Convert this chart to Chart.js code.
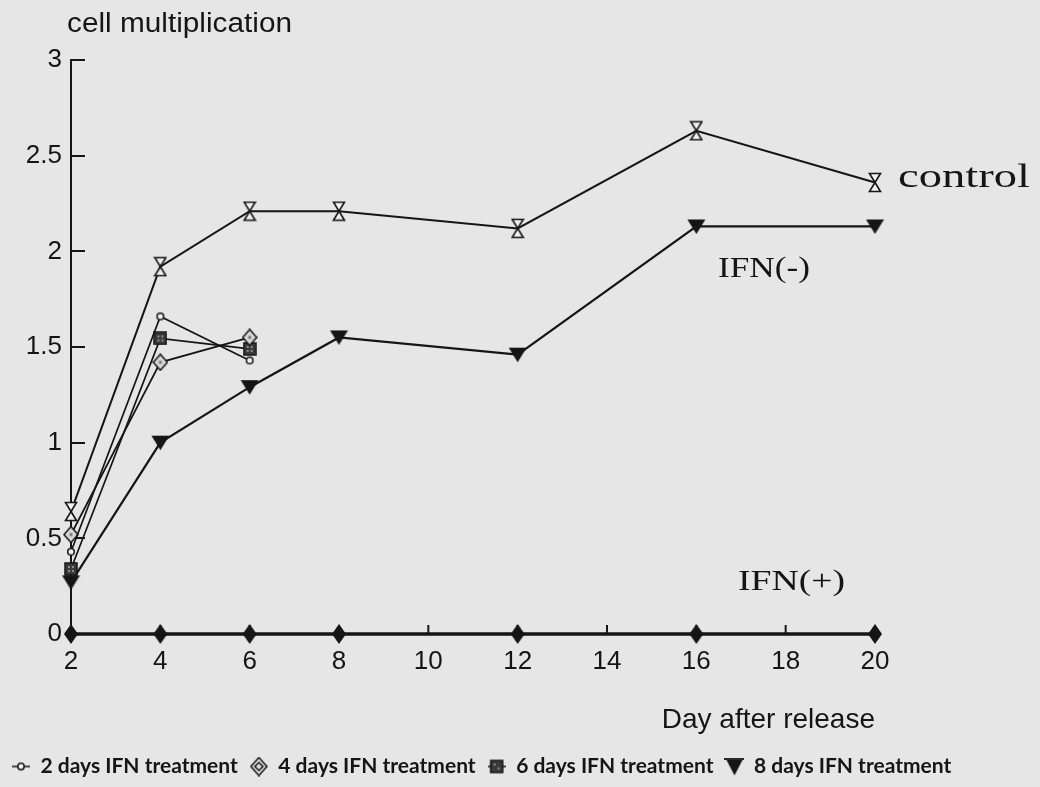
<!DOCTYPE html>
<html>
<head>
<meta charset="utf-8">
<script src="https://cdn.jsdelivr.net/npm/chart.js@4.4.0/dist/chart.umd.min.js"></script>
<style>
  html, body { margin: 0; padding: 0; background: #e6e6e6; }
  #wrap { width: 1040px; height: 787px; position: relative; }
</style>
</head>
<body>
<div id="wrap"><canvas id="c"></canvas></div>
<script>
// ---------- data ----------
const days = [2, 4, 6, 8, 12, 16, 20];
const shortDays = [2, 4, 6];
const controlValues = [0.64, 1.92, 2.21, 2.21, 2.12, 2.63, 2.36];
const ifn8dValues   = [0.27, 1.00, 1.29, 1.55, 1.46, 2.13, 2.13];
const ifn2dValues   = [0.43, 1.66, 1.43];
const ifn4dValues   = [0.52, 1.42, 1.55];
const ifn6dValues   = [0.34, 1.545, 1.49];
const ifnPlusValues = [0, 0, 0, 0, 0, 0, 0];
const xTickValues = [2, 4, 6, 8, 10, 12, 14, 16, 18, 20];
const xTickLabels = ['2', '4', '6', '8', '10', '12', '14', '16', '18', '20'];
const yTickValues = [0, 0.5, 1, 1.5, 2, 2.5, 3];
const yTickLabels = ['0', '0.5', '1', '1.5', '2', '2.5', '3'];
const legendLabels = ['2 days IFN treatment', '4 days IFN treatment', '6 days IFN treatment', '8 days IFN treatment'];
const yAxisTitle = 'cell multiplication';
const xAxisTitle = 'Day after release';
const noteControl = 'control';
const noteMinus = 'IFN(-)';
const notePlus = 'IFN(+)';

// ---------- styles ----------
const bg = '#e6e6e6';
const ink = '#151515';
const sans = '"Liberation Sans", Arial, sans-serif';
const serif = '"Liberation Serif", "Times New Roman", serif';
const legendFont = 'Lato, "Liberation Sans", sans-serif';

function mk(w, h, draw) {
  const c = document.createElement('canvas');
  c.width = w; c.height = h;
  const g = c.getContext('2d');
  g.strokeStyle = ink; g.fillStyle = ink; g.lineJoin = 'miter';
  draw(g, w, h);
  return c;
}
const hourglass = mk(14, 21, g => {
  g.lineWidth = 1.6;
  g.beginPath(); g.moveTo(1.5, 1.5); g.lineTo(12.5, 1.5); g.lineTo(7, 10.5); g.closePath();
  g.fillStyle = '#f2f2f2'; g.fill(); g.stroke();
  g.beginPath(); g.moveTo(7, 10.5); g.lineTo(12.5, 19.5); g.lineTo(1.5, 19.5); g.closePath();
  g.fill(); g.stroke();
});
const downTri = mk(19, 16, g => {
  g.beginPath(); g.moveTo(0.5, 1); g.lineTo(18.5, 1); g.lineTo(9.5, 15.5); g.closePath(); g.fill();
});
const openDiamond = mk(16, 18, g => {
  g.lineWidth = 1.5;
  g.beginPath(); g.moveTo(8, 1); g.lineTo(15, 9); g.lineTo(8, 17); g.lineTo(1, 9); g.closePath();
  g.fillStyle = '#d9d9d9'; g.fill(); g.stroke();
  g.fillStyle = '#777'; g.fillRect(6.5, 7.5, 3, 3);
});
const darkSquare = mk(14, 14, g => {
  g.fillStyle = '#3a3a3a'; g.fillRect(1, 1, 12, 12);
  g.lineWidth = 1.5; g.strokeRect(1, 1, 12, 12);
  g.fillStyle = '#8a8a8a'; g.fillRect(4, 4, 2, 2); g.fillRect(8, 8, 2, 2); g.fillRect(8, 4, 2, 2); g.fillRect(4, 8, 2, 2);
});
const smallCircle = mk(10, 10, g => {
  g.lineWidth = 1.5;
  g.beginPath(); g.arc(5, 5, 3.3, 0, Math.PI * 2);
  g.fillStyle = '#f2f2f2'; g.fill(); g.stroke();
});
const plusDiamond = mk(14, 20, g => {
  g.beginPath(); g.moveTo(7, 0); g.lineTo(14, 10); g.lineTo(7, 20); g.lineTo(0, 10); g.closePath(); g.fill();
});
// legend symbols
const lg2 = mk(18, 10, g => {
  g.lineWidth = 1.5;
  g.beginPath(); g.moveTo(0, 5); g.lineTo(18, 5); g.stroke();
  g.beginPath(); g.arc(9, 5, 3.2, 0, Math.PI * 2); g.fillStyle = '#f2f2f2'; g.fill(); g.stroke();
});
const lg4 = mk(18, 20, g => {
  g.lineWidth = 1.5;
  g.beginPath(); g.moveTo(9, 1); g.lineTo(17, 10); g.lineTo(9, 19); g.lineTo(1, 10); g.closePath();
  g.fillStyle = '#e0e0e0'; g.fill(); g.stroke();
  g.beginPath(); g.moveTo(9, 6); g.lineTo(13, 10); g.lineTo(9, 14); g.lineTo(5, 10); g.closePath(); g.stroke();
});
const lg6 = mk(18, 16, g => {
  g.lineWidth = 1.5;
  g.beginPath(); g.moveTo(0, 8); g.lineTo(18, 8); g.stroke();
  g.fillStyle = '#3a3a3a'; g.fillRect(3, 2, 12, 12); g.strokeRect(3, 2, 12, 12);
  g.fillStyle = '#8a8a8a'; g.fillRect(6, 5, 2, 2); g.fillRect(10, 9, 2, 2);
});
const lg8 = mk(20, 19, g => {
  g.lineWidth = 1.8;
  g.beginPath(); g.moveTo(0, 2); g.lineTo(20, 2); g.stroke();
  g.beginPath(); g.moveTo(2, 3); g.lineTo(18, 3); g.lineTo(10, 18.5); g.closePath(); g.fill();
});

function pts(xs, ys) { return xs.map((x, i) => ({ x: x, y: ys[i] })); }

const bgPlugin = {
  id: 'bg',
  beforeDraw(chart) {
    const { ctx, width, height } = chart;
    ctx.save(); ctx.fillStyle = bg; ctx.fillRect(0, 0, width, height); ctx.restore();
  }
};
const tickMarks = {
  id: 'tickMarks',
  beforeDatasetsDraw(chart) {
    const { ctx, scales: { x, y } } = chart;
    ctx.save(); ctx.strokeStyle = ink; ctx.lineWidth = 2;
    yTickValues.forEach(v => {
      const py = Math.round(y.getPixelForValue(v));
      ctx.beginPath(); ctx.moveTo(x.left, py); ctx.lineTo(x.left + 14, py); ctx.stroke();
    });
    xTickValues.forEach(v => {
      const px = x.getPixelForValue(v);
      ctx.beginPath(); ctx.moveTo(px, y.bottom); ctx.lineTo(px, y.bottom - 9); ctx.stroke();
    });
    ctx.restore();
  }
};
function stretchText(ctx, text, x, baseline, font, targetWidth) {
  ctx.save();
  ctx.font = font; ctx.fillStyle = ink; ctx.textBaseline = 'alphabetic'; ctx.textAlign = 'left';
  const w = ctx.measureText(text).width;
  ctx.translate(x, baseline); ctx.scale(targetWidth / w, 1);
  ctx.fillText(text, 0, 0);
  ctx.restore();
}
const notes = {
  id: 'notes',
  afterDraw(chart) {
    const ctx = chart.ctx;
    stretchText(ctx, yAxisTitle, 67, 32, '27px ' + sans, 225);
    stretchText(ctx, noteControl, 898, 187, '34px ' + serif, 132);
    stretchText(ctx, noteMinus, 718, 277, '29px ' + serif, 92);
    stretchText(ctx, notePlus, 738, 590, '29px ' + serif, 107);
  }
};

const lineBase = { borderColor: ink, borderWidth: 2, tension: 0, clip: false, fill: false, pointRadius: 8, pointHoverRadius: 8 };

new Chart(document.getElementById('c'), {
  type: 'line',
  data: {
    datasets: [
      Object.assign({}, lineBase, { label: legendLabels[0], data: pts(shortDays, ifn2dValues), pointStyle: smallCircle, borderWidth: 1.7 }),
      Object.assign({}, lineBase, { label: legendLabels[1], data: pts(shortDays, ifn4dValues), pointStyle: openDiamond, borderWidth: 1.7 }),
      Object.assign({}, lineBase, { label: legendLabels[2], data: pts(shortDays, ifn6dValues), pointStyle: darkSquare, borderWidth: 1.7 }),
      Object.assign({}, lineBase, { label: legendLabels[3], data: pts(days, ifn8dValues), pointStyle: downTri, borderWidth: 2.2 }),
      Object.assign({}, lineBase, { label: noteControl, data: pts(days, controlValues), pointStyle: hourglass, borderWidth: 2 }),
      Object.assign({}, lineBase, { label: notePlus, data: pts(days, ifnPlusValues), pointStyle: plusDiamond, borderWidth: 3.5 })
    ]
  },
  options: {
    responsive: true,
    maintainAspectRatio: false,
    animation: false,
    events: [],
    layout: { padding: { left: 0, right: 0, top: 60, bottom: 0 } },
    plugins: {
      tooltip: { enabled: false },
      legend: {
        position: 'bottom',
        align: 'start',
        labels: {
          usePointStyle: true,
          pointStyleWidth: 18,
          boxHeight: 18,
          padding: 12,
          color: ink,
          font: { family: legendFont, size: 21, weight: 'bold' },
          generateLabels() {
            const syms = [lg2, lg4, lg6, lg8];
            return legendLabels.map((t, i) => ({
              text: t, pointStyle: syms[i], datasetIndex: i, hidden: false,
              fontColor: ink, fillStyle: ink, strokeStyle: ink, lineWidth: 0
            }));
          }
        }
      }
    },
    scales: {
      x: {
        type: 'linear', min: 2, max: 20,
        afterBuildTicks: s => { s.ticks = xTickValues.map(v => ({ value: v })); },
        afterFit: s => { s.height = 110; },
        ticks: {
          callback: (v, i) => xTickLabels[i],
          autoSkip: false, maxRotation: 0,
          color: ink, padding: 12,
          font: { family: sans, size: 26 }
        },
        grid: { display: false, drawTicks: false },
        border: { display: true, color: ink, width: 2 },
        title: {
          display: true, text: xAxisTitle, align: 'end', color: ink,
          font: { family: sans, size: 28 }, padding: { top: 4, bottom: 7 }
        }
      },
      y: {
        type: 'linear', min: 0, max: 3,
        afterBuildTicks: s => { s.ticks = yTickValues.map(v => ({ value: v })); },
        afterFit: s => { s.width = 71; },
        ticks: {
          callback: (v, i) => yTickLabels[i],
          color: ink, padding: 9,
          font: { family: sans, size: 26 }
        },
        grid: { display: false, drawTicks: false },
        border: { display: true, color: ink, width: 2 }
      },
      rightMargin: {
        type: 'linear', position: 'right', min: 0, max: 3,
        afterFit: s => { s.width = 165; },
        ticks: { display: false },
        grid: { display: false, drawTicks: false },
        border: { display: false }
      }
    }
  },
  plugins: [bgPlugin, tickMarks, notes]
});
</script>
</body>
</html>
